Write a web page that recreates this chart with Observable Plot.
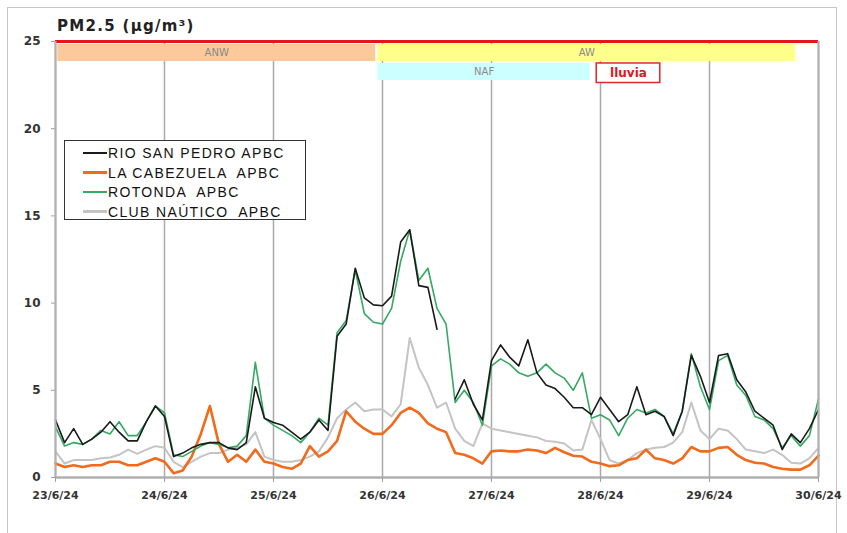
<!DOCTYPE html>
<html>
<head>
<meta charset="utf-8">
<script src="https://cdn.jsdelivr.net/npm/d3@7"></script>
<script src="https://cdn.jsdelivr.net/npm/@observablehq/plot@0.6"></script>
<style>
  body { margin: 0; background: #fff; }
  #wrap { position: relative; width: 847px; height: 533px; overflow: hidden; background: #fff; }
  #frame { position: absolute; left: 7px; top: 7px; width: 830px; height: 540px; border: 1.5px solid #c6c6c6; box-sizing: border-box; }
  #title { position: absolute; left: 57px; top: 17px; font-family: "DejaVu Sans"; font-weight: bold; font-size: 15px; letter-spacing: 1.3px; color: #222; }
  #chart { position: absolute; left: 0; top: 30px; }
  #legend { position: absolute; left: 64px; top: 140px; width: 242px; height: 80px; border: 1px solid #333; background: #fff; box-sizing: border-box; font-family: "Liberation Sans", Arial, sans-serif; font-size: 14px; letter-spacing: 1.35px; color: #111; }
  .row { position: absolute; left: 18px; height: 20px; display: flex; align-items: center; white-space: pre; }
  .sw { display: inline-block; width: 24px; margin-right: 1px; }
</style>
</head>
<body>
<div id="wrap">
  <div id="frame"></div>
  <div id="title">PM2.5 (µg/m³)</div>
  <div id="chart"></div>
  <div id="legend"></div>
</div>
<script>
// ---- data (2-hour steps from 23/6/24 00:00 UTC) ----
const hours = d3.range(0, 169, 2);

const seriesNames = ["RIO SAN PEDRO APBC", "LA CABEZUELA  APBC", "ROTONDA  APBC", "CLUB NAÚTICO  APBC"];

const rioSanPedro = [
  3.3, 2.0, 2.8, 1.9, 2.2, 2.6, 3.2, 2.6, 2.1, 2.1,
  3.2, 4.1, 3.5, 1.2, 1.4, 1.7, 1.9, 2.0, 2.0, 1.7,
  1.6, 2.0, 5.2, 3.4, 3.15, 3.0, 2.6, 2.2, 2.6, 3.3,
  2.7, 8.1, 8.8, 12.0, 10.3, 9.9, 9.85, 10.4, 13.5, 14.2,
  11.0, 10.9, 8.5, null, 4.5, 5.6, 4.2, 3.3, 6.7, 7.6,
  6.9, 6.4, 7.9, 6.0, 5.3, 5.1, 4.6, 4.0, 4.0, 3.6,
  4.6, 3.9, 3.2, 3.6, 5.2, 3.6, 3.8, 3.5, 2.4, 3.8,
  7.0, 5.8, 4.3, 7.0, 7.1, 5.6, 4.9, 3.8, 3.4, 3.0,
  1.6, 2.5, 2.0, 2.8, 3.9
];

const laCabezuela = [
  0.8, 0.6, 0.7, 0.6, 0.7, 0.7, 0.9, 0.9, 0.7, 0.7,
  0.9, 1.1, 0.9, 0.25, 0.4, 1.2, 2.5, 4.1, 1.9, 0.9,
  1.3, 0.9, 1.6, 0.9, 0.8, 0.6, 0.5, 0.8, 1.8, 1.2,
  1.5, 2.1, 3.8, 3.2, 2.8, 2.5, 2.5, 3.0, 3.7, 4.0,
  3.7, 3.1, 2.8, 2.6, 1.4, 1.3, 1.1, 0.8, 1.5, 1.55,
  1.5, 1.5, 1.6, 1.55, 1.4, 1.7, 1.45, 1.25, 1.2, 0.9,
  0.8, 0.65, 0.7, 1.0, 1.1, 1.6, 1.1, 1.0, 0.8, 1.1,
  1.75, 1.5, 1.5, 1.7, 1.75, 1.3, 1.0, 0.85, 0.8, 0.6,
  0.5, 0.45, 0.45, 0.7, 1.25
];

const rotonda = [
  2.9, 1.8, 2.0, 1.9, 2.2, 2.7, 2.5, 3.2, 2.4, 2.4,
  3.2, 4.1, 3.7, 1.3, 1.2, 1.5, 1.8, 2.0, 1.9, 1.7,
  1.8, 2.4, 6.6, 3.4, 3.0, 2.7, 2.4, 2.0, 2.6, 3.4,
  3.0, 8.3, 9.0, 11.9, 9.4, 8.9, 8.8, 9.7, 12.4, 14.2,
  11.3, 12.0, 9.7, 8.8, 4.3, 5.0, 4.3, 3.0, 6.4, 6.8,
  6.5, 6.0, 5.8, 6.0, 6.5, 6.0, 5.7, 5.0, 6.0, 3.4,
  3.6, 3.3, 2.4, 3.4, 3.9, 3.7, 3.9, 3.5, 2.5, 3.8,
  7.1, 5.2, 3.9, 6.7, 7.0, 5.3, 4.7, 3.5, 3.3, 2.8,
  1.7, 2.4, 1.8, 2.4, 4.5
];

const clubNautico = [
  1.5, 0.8, 1.0, 1.0, 1.0, 1.1, 1.15, 1.3, 1.6, 1.35,
  1.6, 1.8, 1.7, 0.9, 0.6, 0.9, 1.2, 1.4, 1.4, 1.6,
  1.7, 1.9, 2.6, 1.2, 1.0, 0.9, 0.9, 1.0, 1.2, 1.5,
  2.3, 3.4, 3.9, 4.3, 3.8, 3.9, 3.9, 3.5, 4.2, 8.0,
  6.3, 5.3, 4.0, 4.3, 2.8, 2.1, 1.8, 3.1, 2.8, 2.7,
  2.6, 2.5, 2.4, 2.3, 2.1, 2.05, 1.95, 1.55, 1.6, 3.3,
  2.2, 1.0, 0.8, 1.0, 1.4, 1.6, 1.7, 1.75, 2.0, 2.6,
  4.3, 2.7, 2.2, 2.8, 2.7, 2.2, 1.6, 1.5, 1.4, 1.6,
  1.3, 0.85, 0.8, 1.1, 1.7
];

// air-mass / event periods
const bandNames  = ["ANW", "AW", "NAF", "lluvia"];
const bandStarts = ["2024-06-23T00:30Z", "2024-06-25T23:00Z", "2024-06-25T23:00Z", "2024-06-27T23:10Z"];
const bandEnds   = ["2024-06-25T22:30Z", "2024-06-29T19:00Z", "2024-06-27T21:45Z", "2024-06-28T13:10Z"];

const dayTicks = d3.range(23, 31);
const yTicks = [0, 5, 10, 15, 20, 25];

// ---- build ----
const t0 = Date.UTC(2024, 5, 23);
const toDate = h => new Date(t0 + h * 3600e3);
const colors = ["#1a1a1a", "#f26a1b", "#35a862", "#c4c4c4"];
const widths = [1.6, 2.6, 1.6, 2.0];
const allSeries = [rioSanPedro, laCabezuela, rotonda, clubNautico];

const rows = [];
allSeries.forEach((vals, i) => vals.forEach((v, j) => rows.push({series: seriesNames[i], date: toDate(hours[j]), value: v})));

const bands = bandNames.map((n, i) => ({name: n, start: new Date(bandStarts[i]), end: new Date(bandEnds[i])}));
const bandStyle = {
  ANW: {fill: "#fbc99b", y1: 23.85, y2: 24.83},
  AW: {fill: "#ffff8c", y1: 23.85, y2: 24.83},
  NAF: {fill: "#ccffff", y1: 22.76, y2: 23.74},
  lluvia: {fill: "#ffffff", y1: 22.62, y2: 23.74}
};
const plainBands = bands.filter(b => b.name !== "lluvia");
const rain = bands.filter(b => b.name === "lluvia");
const days = dayTicks.map(d => new Date(Date.UTC(2024, 5, d)));
const mid = b => new Date((+b.start + +b.end) / 2);

const drawOrder = [3, 1, 2, 0];

const chart = Plot.plot({
  width: 847,
  height: 503,
  marginLeft: 55,
  marginRight: 29,
  marginTop: 11,
  marginBottom: 56,
  style: {fontFamily: "DejaVu Sans", background: "transparent"},
  x: {type: "utc", domain: [days[0], days[days.length - 1]], label: null},
  y: {domain: [0, 25], label: null},
  marks: [
    Plot.ruleX(days, {stroke: "#a9a9a9", strokeWidth: 1.5}),
    Plot.ruleY([0], {stroke: "#b0b0b0", strokeWidth: 2.5}),
    ...drawOrder.map(i => Plot.line(rows.filter(r => r.series === seriesNames[i]), {
      x: "date", y: "value", stroke: colors[i], strokeWidth: widths[i], strokeLinejoin: "round"
    })),
    Plot.rect(plainBands, {x1: "start", x2: "end", y1: b => bandStyle[b.name].y1, y2: b => bandStyle[b.name].y2, fill: b => bandStyle[b.name].fill}),
    Plot.text(plainBands, {x: mid, y: b => (bandStyle[b.name].y1 + bandStyle[b.name].y2) / 2, text: "name", fill: "#8a8a8a", fontSize: 10}),
    Plot.rect(rain, {x1: "start", x2: "end", y1: b => bandStyle[b.name].y1, y2: b => bandStyle[b.name].y2, fill: "#fff", stroke: "#e2262c", strokeWidth: 1.5}),
    Plot.text(rain, {x: mid, y: b => (bandStyle[b.name].y1 + bandStyle[b.name].y2) / 2, text: "name", fill: "#e0161e", fontSize: 12, fontWeight: "bold"}),
    Plot.ruleY([25], {stroke: "#e8141c", strokeWidth: 3}),
    Plot.axisX({ticks: days, tickFormat: d => `${d.getUTCDate()}/${d.getUTCMonth() + 1}/24`, tickSize: 5, tickPadding: 9, fontSize: 11, fontWeight: "bold", stroke: "#a0a0a0", fill: "#333"}),
    Plot.axisY({ticks: yTicks, tickSize: 4, tickPadding: 11, fontSize: 12, fontWeight: "bold", stroke: "#a0a0a0", fill: "#333"}),
    Plot.ruleX([days[0]], {stroke: "#b0b0b0", strokeWidth: 2}),
    Plot.ruleX([days[days.length - 1]], {stroke: "#b0b0b0", strokeWidth: 2})
  ]
});
document.getElementById("chart").appendChild(chart);

// legend
const legend = document.getElementById("legend");
const swWidths = [2, 3, 2, 3];
seriesNames.forEach((n, i) => {
  const row = document.createElement("div");
  row.className = "row";
  row.style.top = (2 + i * 19.5) + "px";
  const sw = document.createElement("span");
  sw.className = "sw";
  sw.style.borderTop = `${swWidths[i]}px solid ${colors[i]}`;
  const tx = document.createElement("span");
  tx.textContent = n;
  row.appendChild(sw);
  row.appendChild(tx);
  legend.appendChild(row);
});
</script>
</body>
</html>
